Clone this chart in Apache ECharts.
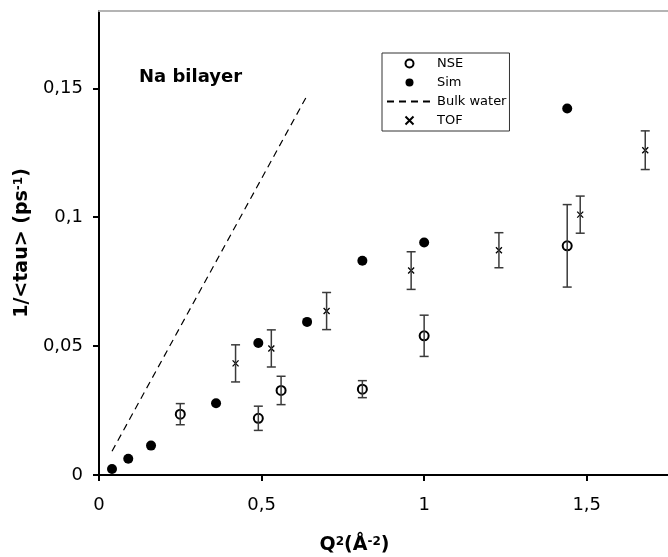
<!DOCTYPE html>
<html>
<head>
<meta charset="utf-8">
<script src="https://cdn.jsdelivr.net/npm/echarts@6/dist/echarts.min.js"></script>
<style>
  html, body { margin: 0; padding: 0; background: #fff; }
  #main { width: 668px; height: 557px; }
</style>
</head>
<body>
<div id="main"></div>
<script>
// values: [Q^2, 1/<tau>, error]
const nsePoints = [
  [0.25, 0.0236, 0.0041],
  [0.49, 0.0220, 0.0047],
  [0.56, 0.0328, 0.0055],
  [0.81, 0.0333, 0.0033],
  [1.00, 0.0540, 0.0080],
  [1.44, 0.0889, 0.0160]
];
const simPoints = [
  [0.04, 0.0023],
  [0.09, 0.0063],
  [0.16, 0.0114],
  [0.36, 0.0278],
  [0.49, 0.0512],
  [0.64, 0.0594],
  [0.81, 0.0831],
  [1.00, 0.0902],
  [1.44, 0.1422]
];
const tofPoints = [
  [0.42, 0.0433, 0.0072],
  [0.53, 0.0491, 0.0072],
  [0.70, 0.0636, 0.0072],
  [0.96, 0.0793, 0.0073],
  [1.23, 0.0872, 0.0068],
  [1.48, 0.1010, 0.0072],
  [1.68, 0.1260, 0.0075]
];
const bulkWater = [
  [0.04, 0.0092],
  [0.64, 0.1472]
];

const FONT = 'DejaVu Sans';
const comma = v => String(v).replace('.', ',');

const titleRich = {
  a: { fontFamily: FONT, fontWeight: 'bold', fontSize: 19, color: '#000' },
  s: { fontFamily: FONT, fontWeight: 'bold', fontSize: 12, color: '#000', verticalAlign: 'top' }
};

function errorBar(params, api) {
  const x = api.value(0);
  const y = api.value(1);
  const e = api.value(2);
  const hi = api.coord([x, y + e]);
  const lo = api.coord([x, y - e]);
  const cap = 4.5;
  const style = { stroke: '#3a3a3a', lineWidth: 1.5 };
  return {
    type: 'group',
    children: [
      { type: 'line', shape: { x1: hi[0], y1: hi[1], x2: lo[0], y2: lo[1] }, style },
      { type: 'line', shape: { x1: hi[0] - cap, y1: hi[1], x2: hi[0] + cap, y2: hi[1] }, style },
      { type: 'line', shape: { x1: lo[0] - cap, y1: lo[1], x2: lo[0] + cap, y2: lo[1] }, style }
    ]
  };
}

const chart = echarts.init(document.getElementById('main'));

chart.setOption({
  animation: false,
  backgroundColor: '#fff',
  textStyle: { fontFamily: FONT },
  title: {
    text: 'Na bilayer',
    left: 139,
    top: 68,
    padding: 0,
    textStyle: { fontFamily: FONT, fontWeight: 'bold', fontSize: 18, color: '#000' }
  },
  legend: {
    data: [
      { name: 'NSE' },
      { name: 'Sim' },
      // hide the dot that echarts puts in the middle of a line legend icon
      { name: 'Bulk water', itemStyle: { color: 'rgba(0,0,0,0)', borderWidth: 0, opacity: 0 } },
      { name: 'TOF' }
    ],
    orient: 'vertical',
    left: 382,
    top: 53,
    padding: [4, 3, 4, 4],
    itemWidth: 45,
    itemHeight: 8,
    itemGap: 6,
    borderColor: '#333',
    borderWidth: 1,
    selectedMode: false,
    textStyle: { fontFamily: FONT, fontSize: 13, color: '#000' }
  },
  grid: { left: 99, right: 0, top: 11, bottom: 82, outerBoundsMode: 'none' },
  xAxis: [
    {
      type: 'value',
      min: 0,
      max: 1.75,
      interval: 0.5,
      name: '{a|Q}{s|2}{a|(Å}{s|-2}{a|)}',
      nameLocation: 'middle',
      nameGap: 61,
      nameTextStyle: { padding: [0, 58, 0, 0], rich: titleRich },
      axisLine: { lineStyle: { color: '#000', width: 2 } },
      axisTick: { length: 6, lineStyle: { color: '#000', width: 2 } },
      axisLabel: { margin: 21, fontSize: 18, color: '#000', fontFamily: FONT, formatter: comma, showMaxLabel: false },
      splitLine: { show: false }
    },
    {
      type: 'value',
      position: 'top',
      min: 0,
      max: 1.75,
      axisLine: { lineStyle: { color: '#b4b4b4', width: 2 } },
      axisTick: { show: false },
      axisLabel: { show: false },
      splitLine: { show: false }
    }
  ],
  yAxis: {
    type: 'value',
    min: 0,
    max: 0.18,
    interval: 0.05,
    name: '{a|1/<tau> (ps}{s|-1}{a|)}',
    nameLocation: 'middle',
    nameGap: 63,
    nameTextStyle: { rich: titleRich },
    axisLine: { lineStyle: { color: '#000', width: 2 } },
    axisTick: { length: 6, lineStyle: { color: '#000', width: 2 } },
    axisLabel: { margin: 16, fontSize: 18, color: '#000', fontFamily: FONT, formatter: comma, showMaxLabel: false },
    splitLine: { show: false }
  },
  series: [
    {
      name: 'NSE',
      type: 'scatter',
      data: nsePoints.map(p => [p[0], p[1]]),
      symbol: 'emptyCircle',
      symbolSize: 9,
      itemStyle: { color: '#000', borderWidth: 1.2, opacity: 1 },
      z: 3
    },
    {
      name: 'Sim',
      type: 'scatter',
      data: simPoints,
      symbol: 'circle',
      symbolSize: 10,
      itemStyle: { color: '#000', opacity: 1 }
    },
    {
      name: 'Bulk water',
      type: 'line',
      data: bulkWater,
      symbol: 'none',
      lineStyle: { color: '#000', width: 1.2, type: [7, 5] },
      itemStyle: { color: '#000' }
    },
    {
      name: 'TOF',
      type: 'scatter',
      data: tofPoints.map(p => [p[0], p[1]]),
      symbol: 'path://M0,0L10,10M10,0L0,10',
      symbolSize: 6,
      itemStyle: { color: '#000', borderColor: '#000', borderWidth: 1.3, opacity: 1 }
    },
    {
      type: 'custom',
      renderItem: errorBar,
      data: nsePoints,
      z: 4
    },
    {
      type: 'custom',
      renderItem: errorBar,
      data: tofPoints,
      z: 4
    }
  ]
});
</script>
</body>
</html>
